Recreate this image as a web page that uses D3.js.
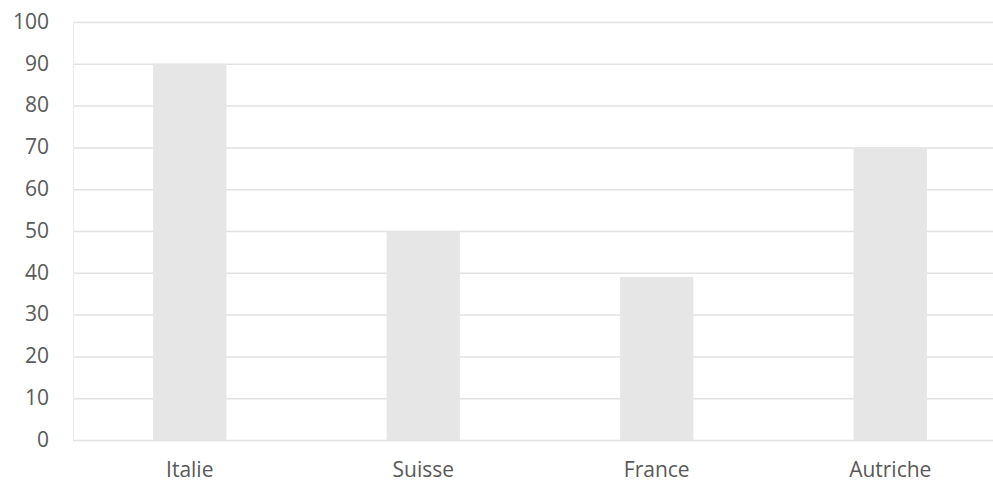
<!DOCTYPE html>
<html><head><meta charset="utf-8">
<script src="https://cdn.jsdelivr.net/npm/d3@7"></script>
<style>html,body{margin:0;padding:0;background:#fff;overflow:hidden}</style>
</head><body>
<script>
const categories = ["Italie", "Suisse", "France", "Autriche"];
const values = [90, 50, 39, 70];
const yTicks = [0, 10, 20, 30, 40, 50, 60, 70, 80, 90, 100];

const W = 993, H = 484;
const svg = d3.select("body").append("svg").attr("width", W).attr("height", H);
const mLeft = 73, mRight = 1007, mTop = 22, mBottom = 440;

const x = d3.scaleBand().domain(categories).range([mLeft, mRight]).paddingInner(0.686).paddingOuter(0.343);
const y = d3.scaleLinear().domain([0, 100]).range([mBottom, mTop]);

const font = "'Open Sans', 'Noto Sans', sans-serif";

// gridlines
svg.append("g").selectAll("line").data(yTicks).join("line")
  .attr("x1", mLeft).attr("x2", mRight)
  .attr("y1", d => y(d) + 0.5).attr("y2", d => y(d) + 0.5)
  .attr("stroke", "#e2e2e2").attr("stroke-width", 1.5);
svg.append("line").attr("x1", mLeft + 0.5).attr("x2", mLeft + 0.5)
  .attr("y1", mTop).attr("y2", mBottom).attr("stroke", "#ececec").attr("stroke-width", 1);

// bars
svg.append("g").selectAll("rect").data(values).join("rect")
  .attr("x", (d, i) => x(categories[i]))
  .attr("width", x.bandwidth())
  .attr("y", d => y(d))
  .attr("height", d => y(0) - y(d))
  .attr("fill", "#e6e6e6");

// y axis labels
const yAxis = d3.axisLeft(y).tickValues(yTicks).tickSize(0).tickPadding(0);
const gy = svg.append("g").attr("transform", `translate(49,0)`).call(yAxis);
gy.select(".domain").remove();
gy.selectAll("text").attr("font-family", font).attr("font-size", 21).attr("fill", "#595959").attr("dy", "0.3em");

// x axis labels
const xAxis = d3.axisBottom(x).tickSize(0).tickPadding(0);
const gx = svg.append("g").attr("transform", `translate(0,477)`).call(xAxis);
gx.select(".domain").remove();
gx.selectAll("text").attr("font-family", font).attr("font-size", 21).attr("fill", "#595959").attr("y", 0).attr("dy", "0");
</script>
</body></html>
